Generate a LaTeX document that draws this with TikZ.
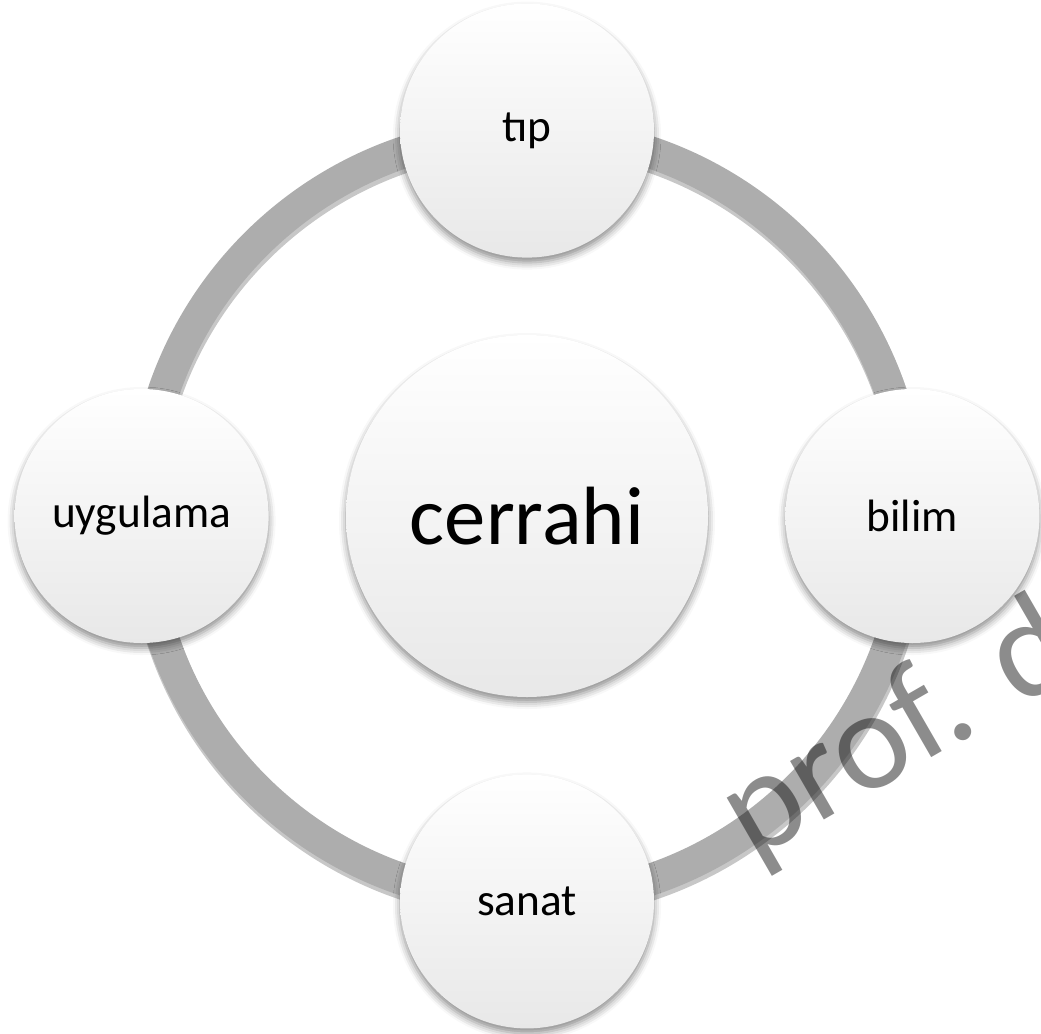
\documentclass[tikz,border=0pt]{standalone}
\usepackage{fontspec}
\setmainfont{Carlito}
\usetikzlibrary{positioning,shadows.blur}

\definecolor{ringgray}{HTML}{ADADAD}

\tikzset{
	bubble/.style={circle, draw=none, top color=white, bottom color=black!9,
		minimum size=254bp, inner sep=0pt, text=black,
		font=\fontsize{45.5}{54}\selectfont,
		blur shadow={shadow xshift=0bp, shadow yshift=-5bp,
			shadow blur radius=7bp, shadow opacity=45}},
	hub/.style={bubble, minimum size=362bp, font=\fontsize{83}{99}\selectfont},
	loopring/.style={line width=32bp, draw=ringgray},
	watermark/.style={text=black, opacity=0.45, inner sep=0pt,
		font=\fontsize{142}{142}\selectfont},
}

\begin{document}
\begin{tikzpicture}[x=1bp, y=-1bp, node distance=77bp]
		\useasboundingbox (0,0) rectangle (1041,1034);

		% ring behind the circles
		\coordinate (o) at (527,516);
		\draw[line width=33bp, draw=black, opacity=0.22] ([shift={(1,4)}]o) circle[radius=384];
		\draw[loopring] (o) circle[radius=384];

		\node[hub] (cerrahi) at (o) {cerrahi};
		\node[bubble, above=of cerrahi] (tip) {tıp};
		\node[bubble, right=of cerrahi] (bilim) {bilim};
		\node[bubble, below=of cerrahi] (sanat) {sanat};
		\node[bubble, left=of cerrahi] (uygulama) {uygulama};

		\begin{scope}
			\clip (0,0) rectangle (1041,1034);
			\node[watermark, rotate=30, anchor=base west] (wm) at (752,862) {prof. d};
		\end{scope}
	\end{tikzpicture}
\end{document}
